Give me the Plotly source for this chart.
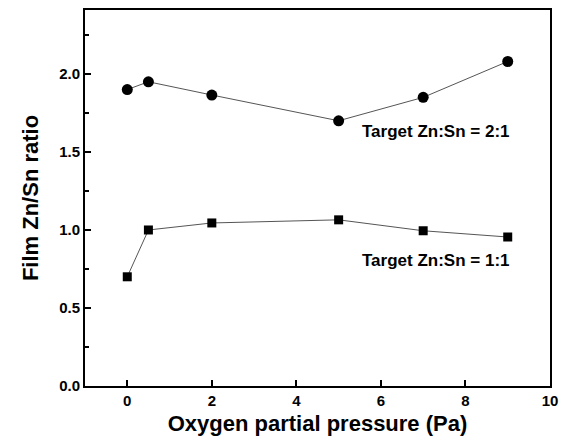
import plotly.graph_objects as go

pressure = [0, 0.5, 2, 5, 7, 9]
ratio_21 = [1.90, 1.95, 1.865, 1.70, 1.85, 2.08]
ratio_11 = [0.70, 1.00, 1.045, 1.065, 0.995, 0.955]
x_ticks = [0, 2, 4, 6, 8, 10]
y_ticks = [0.0, 0.5, 1.0, 1.5, 2.0]
y_tick_labels = ["0.0", "0.5", "1.0", "1.5", "2.0"]

fig = go.Figure()
fig.add_trace(go.Scatter(x=pressure, y=ratio_21, mode="lines+markers",
                         line=dict(color="#555555", width=1),
                         marker=dict(symbol="circle", size=11, color="black"),
                         showlegend=False))
fig.add_trace(go.Scatter(x=pressure, y=ratio_11, mode="lines+markers",
                         line=dict(color="#555555", width=1),
                         marker=dict(symbol="square", size=9, color="black"),
                         showlegend=False))

font = "Liberation Sans, Arial, sans-serif"
fig.add_annotation(x=9.1, y=1.63, text="<b>Target Zn:Sn = 2:1</b>", showarrow=False,
                   xanchor="right", yanchor="middle", font=dict(family=font, size=17, color="black"))
fig.add_annotation(x=9.1, y=0.805, text="<b>Target Zn:Sn = 1:1</b>", showarrow=False,
                   xanchor="right", yanchor="middle", font=dict(family=font, size=17, color="black"))

fig.update_layout(
    width=566, height=443,
    margin=dict(l=85, r=13, t=8, b=57),
    paper_bgcolor="white", plot_bgcolor="white",
    font=dict(family=font, color="black"),
    xaxis=dict(range=[-1, 10], tickvals=x_ticks, ticktext=[f"<b>{v}</b>" for v in x_ticks],
               ticks="inside", ticklen=6, tickwidth=1.5, tickcolor="black",
               showline=True, linecolor="black", linewidth=2, mirror=True,
               showgrid=False, zeroline=False, tickfont=dict(size=15),
               title=dict(text="<b>Oxygen partial pressure (Pa)</b>", font=dict(size=22), standoff=8)),
    yaxis=dict(range=[0, 2.41], tickvals=y_ticks, ticktext=[f"<b>{t}</b>" for t in y_tick_labels],
               ticks="inside", ticklen=6, tickwidth=1.5, tickcolor="black",
               showline=True, linecolor="black", linewidth=2, mirror=True,
               showgrid=False, zeroline=False, tickfont=dict(size=15),
               minor=dict(dtick=0.25, ticks="inside", ticklen=4, tickcolor="black", showgrid=False),
               title=dict(text="<b>Film Zn/Sn ratio</b>", font=dict(size=22), standoff=14)),
)
fig.write_html("out.html")
